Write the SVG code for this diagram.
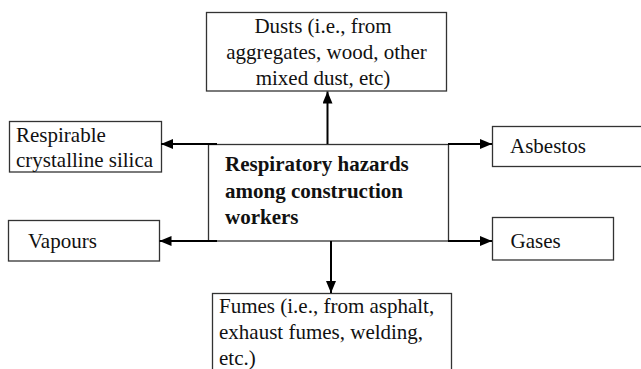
<svg xmlns="http://www.w3.org/2000/svg" width="641" height="369" viewBox="0 0 641 369">
<style>
.box{fill:#fff;stroke:#333;stroke-width:1.3}
.t{font-family:'Liberation Serif','Times New Roman',Times,serif;font-size:21px;fill:#111}
.b{font-weight:bold}
.c{text-anchor:middle}
.con line{stroke:#000;stroke-width:2;fill:none}
</style>
<defs>
<marker id="ah" viewBox="0 0 12 10" refX="12" refY="5" markerUnits="userSpaceOnUse" markerWidth="12" markerHeight="10" orient="auto">
<path d="M0,0 L12,5 L0,10 Z" fill="#000"/>
</marker>
</defs>
<rect width="641" height="369" fill="#fff"/>
<g id="center">
<rect class="box" x="208.5" y="144.5" width="240" height="96.5"/>
<text class="t b" x="225" y="171">Respiratory hazards</text>
<text class="t b" x="225" y="198">among construction</text>
<text class="t b" x="225" y="224">workers</text>
</g>
<g id="dusts">
<rect class="box" x="206.5" y="12.5" width="240" height="78.5"/>
<text class="t c" x="323" y="33">Dusts (i.e., from</text>
<text class="t c" x="326.5" y="59">aggregates, wood, other</text>
<text class="t c" x="323" y="85">mixed dust, etc)</text>
</g>
<g id="silica">
<rect class="box" x="9.5" y="121.5" width="152" height="50.5"/>
<text class="t" x="16" y="142">Respirable</text>
<text class="t" x="16" y="167">crystalline silica</text>
</g>
<g id="asbestos">
<rect class="box" x="492.5" y="126.5" width="160" height="40"/>
<text class="t" x="510" y="153">Asbestos</text>
</g>
<g id="vapours">
<rect class="box" x="8.5" y="220.5" width="151" height="40.5"/>
<text class="t" x="28" y="248">Vapours</text>
</g>
<g id="gases">
<rect class="box" x="492.5" y="217.5" width="121" height="42.5"/>
<text class="t" x="510.5" y="248">Gases</text>
</g>
<g id="fumes">
<rect class="box" x="212.5" y="293.5" width="239" height="90"/>
<text class="t" x="219" y="313">Fumes (i.e., from asphalt,</text>
<text class="t" x="219" y="339">exhaust fumes, welding,</text>
<text class="t" x="219" y="365">etc.)</text>
</g>
<g id="connectors" class="con">
<line x1="217" y1="144" x2="161" y2="144" marker-end="url(#ah)"/>
<line x1="217" y1="241" x2="159.5" y2="241" marker-end="url(#ah)"/>
<line x1="448" y1="144" x2="492" y2="144" marker-end="url(#ah)"/>
<line x1="448" y1="241" x2="492" y2="241" marker-end="url(#ah)"/>
<line x1="327.5" y1="144" x2="327.5" y2="91.5" marker-end="url(#ah)"/>
<line x1="331" y1="241" x2="331" y2="293" marker-end="url(#ah)"/>
</g>
</svg>
